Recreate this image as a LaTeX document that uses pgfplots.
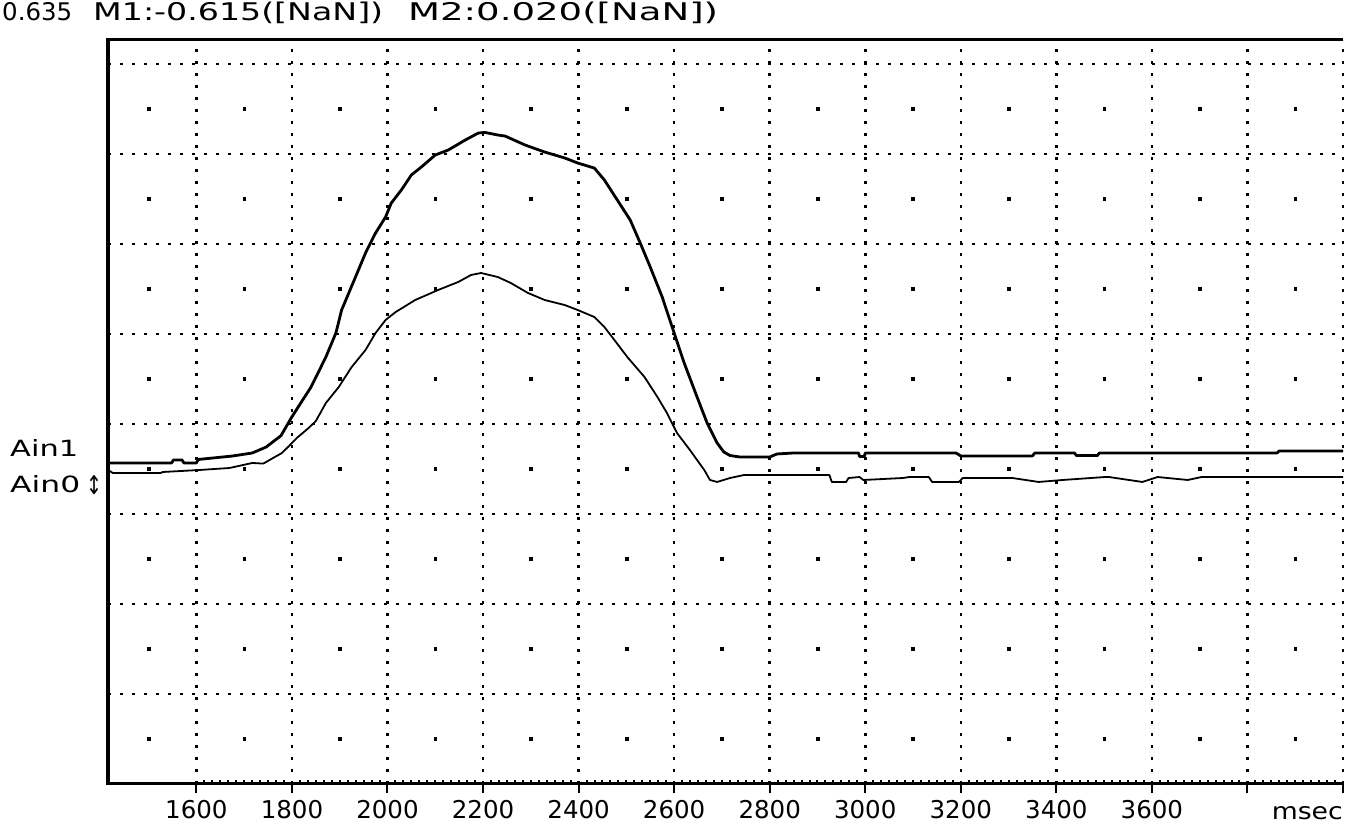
\documentclass[border=0pt]{standalone}
\usepackage{pgfplots}
\pgfplotsset{compat=1.18}
\usepackage{fontspec}
\setmainfont{DejaVu Sans}
\newfontfamily\arrowfont{DejaVu Sans}
\begin{document}
\begin{tikzpicture}[x=1pt,y=1pt]
\useasboundingbox (0,0) rectangle (1351,832);
\begin{axis}[
  name=ax,
  at={(108pt,48pt)}, anchor=south west,
  scale only axis, width=1235pt, height=744pt,
  xmin=1415, xmax=4000, ymin=0, ymax=8.267,
  axis line style={draw=none},
  xtick={1600,1800,...,4000},
  xticklabels={1600,1800,2000,2200,2400,2600,2800,3000,3200,3400,3600,{},{}},
  xtick pos=left,
  minor x tick num=11,
  tick align=outside,
  major tick length=9pt,
  minor tick length=-4pt,
  x tick style={black, line width=2pt},
  ytick={1,2,...,8}, yticklabels={},
  y tick style={draw=none},
  grid=major,
  major grid style={black, line width=2.6pt, dash pattern=on 2.6pt off 9.4pt},
  xticklabel style={font=\fontsize{24.5}{26}\selectfont, yshift=-4pt},
  /pgf/number format/assume math mode=true,
]
\pgfplotsinvokeforeach{0.5,1.5,2.5,3.5,4.5,5.5,6.5,7.5}{
\addplot[only marks, mark=square*, mark size=1.4pt, black] coordinates {
(1500,#1)(1700,#1)(1900,#1)(2100,#1)(2300,#1)(2500,#1)(2700,#1)(2900,#1)(3100,#1)(3300,#1)(3500,#1)(3700,#1)(3900,#1)};
}
% Ain1 (upper, thicker)
\addplot[black, line width=2.8pt, line join=round] coordinates {
(1415,3.567)(1548,3.567)(1552,3.600)(1570,3.600)(1574,3.567)(1600,3.567)(1604,3.606)(1675,3.644)(1717,3.678)(1746,3.744)(1777,3.870)(1800,4.080)(1812,4.180)(1840,4.411)(1871,4.744)(1892,5.011)(1904,5.267)(1933,5.633)(1954,5.900)(1975,6.122)(1996,6.300)(2008,6.456)(2029,6.600)(2050,6.767)(2071,6.856)(2100,6.989)(2127,7.044)(2163,7.156)(2190,7.233)(2204,7.240)(2231,7.211)(2246,7.200)(2288,7.100)(2329,7.022)(2371,6.956)(2398,6.900)(2433,6.844)(2454,6.711)(2481,6.489)(2508,6.267)(2529,6.011)(2550,5.744)(2575,5.411)(2600,5.011)(2621,4.678)(2648,4.300)(2669,4.011)(2690,3.789)(2704,3.689)(2717,3.650)(2738,3.633)(2800,3.633)(2815,3.667)(2850,3.678)(2986,3.678)(2988,3.640)(2998,3.640)(3000,3.678)(3190,3.678)(3200,3.645)(3350,3.645)(3355,3.678)(3438,3.678)(3442,3.650)(3486,3.650)(3490,3.678)(3862,3.678)(3866,3.700)(4000,3.700)};
% Ain0 (lower, thinner)
\addplot[black, line width=1.8pt, line join=round] coordinates {
(1415,3.489)(1425,3.456)(1525,3.456)(1530,3.467)(1606,3.489)(1669,3.511)(1717,3.567)(1740,3.560)(1779,3.678)(1794,3.756)(1810,3.844)(1835,3.956)(1850,4.033)(1871,4.233)(1898,4.411)(1925,4.633)(1954,4.822)(1975,5.011)(1996,5.156)(2017,5.244)(2058,5.378)(2106,5.489)(2148,5.578)(2175,5.656)(2196,5.678)(2231,5.633)(2258,5.567)(2294,5.456)(2329,5.378)(2371,5.322)(2398,5.267)(2433,5.189)(2454,5.078)(2475,4.933)(2502,4.744)(2538,4.522)(2565,4.300)(2585,4.122)(2606,3.900)(2633,3.711)(2663,3.489)(2675,3.378)(2690,3.356)(2717,3.400)(2746,3.433)(2925,3.433)(2930,3.356)(2960,3.356)(2965,3.400)(2988,3.411)(2996,3.378)(3079,3.400)(3092,3.411)(3133,3.411)(3140,3.356)(3196,3.356)(3204,3.400)(3308,3.400)(3363,3.356)(3413,3.378)(3502,3.411)(3510,3.411)(3580,3.356)(3612,3.411)(3675,3.378)(3704,3.411)(4000,3.411)};
\end{axis}
\draw[line width=4pt] (ax.south west) -- (ax.north west);
\draw[line width=3pt] ([xshift=-2pt]ax.south west) -- (ax.south east);
\draw[line width=3pt] ([xshift=-2pt]ax.north west) -- (ax.north east);
\begin{scope}[every node/.style={inner sep=0pt, font=\fontsize{20}{22}\selectfont}]
\node[anchor=base west] at (2,811) {\resizebox{70pt}{18pt}{0.635}};
\node[anchor=base west] at (93,811) {\resizebox{290pt}{18.5pt}{M1:-0.615([NaN])}};
\node[anchor=base west] at (408,811) {\resizebox{310pt}{18.5pt}{M2:0.020([NaN])}};
\node[anchor=base west] at (10,375) {\resizebox{68pt}{17pt}{Ain1}};
\node[anchor=base west] at (10,339) {\resizebox{70pt}{17pt}{Ain0}};
\node[anchor=base west] at (86,337) {\resizebox{16pt}{19pt}{\arrowfont ↕}};
\node[anchor=base east] at (1343,12) {\resizebox{71pt}{13pt}{msec}};
\end{scope}
\end{tikzpicture}
\end{document}
